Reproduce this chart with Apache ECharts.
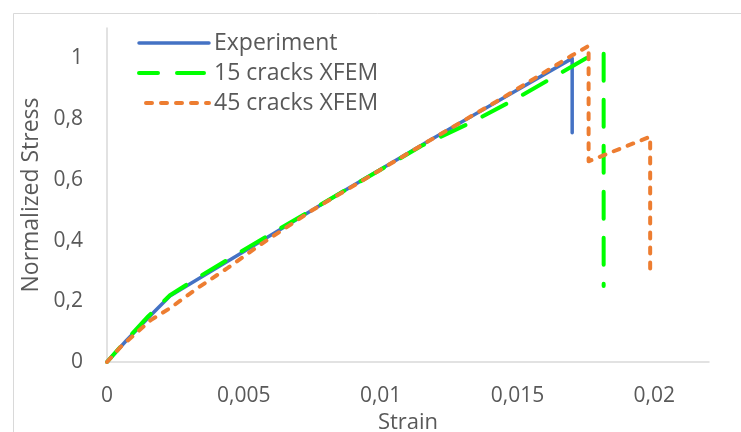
<!DOCTYPE html>
<html>
<head>
<meta charset="utf-8">
<script src="https://cdn.jsdelivr.net/npm/echarts@6/dist/echarts.min.js"></script>
<style>
html,body{margin:0;padding:0;background:#fff;}
#chart{width:741px;height:432px;}
</style>
</head>
<body>
<div id="chart"></div>
<script>
const seriesNames = ['Experiment', '15 cracks XFEM', '45 cracks XFEM'];
const xTicks = [0, 0.005, 0.01, 0.015, 0.02];
const yTicks = [0, 0.2, 0.4, 0.6, 0.8, 1];

const expStrain = [0, 0.0007, 0.0015, 0.0023, 0.0033, 0.0052, 0.0085, 0.0118, 0.0145, 0.017, 0.017];
const expStress = [0, 0.07, 0.145, 0.217, 0.272, 0.375, 0.555, 0.73, 0.87, 1.0, 0.755];

const c15Strain = [0, 0.0007, 0.0015, 0.0023, 0.0033, 0.0052, 0.0085, 0.0115, 0.0134, 0.0149, 0.0164, 0.0178, 0.01815, 0.01815];
const c15Stress = [0, 0.072, 0.15, 0.22, 0.277, 0.38, 0.555, 0.712, 0.793, 0.865, 0.942, 1.016, 1.016, 0.25];

const c45Strain = [0, 0.0005, 0.0016, 0.0023, 0.0033, 0.0044, 0.0056, 0.0075, 0.0085, 0.0118, 0.0145, 0.017, 0.0176, 0.0176, 0.01985, 0.01985];
const c45Stress = [0, 0.05, 0.138, 0.177, 0.243, 0.309, 0.386, 0.5, 0.553, 0.73, 0.872, 1.01, 1.041, 0.661, 0.742, 0.294];

function pairs(xs, ys) { return xs.map((x, i) => [x, ys[i]]); }
function fmt(v) { return String(v).replace('.', ','); }

const FONT = '"Open Sans", sans-serif';
const chart = echarts.init(document.getElementById('chart'), null, {renderer: 'canvas'});
chart.setOption({
  animation: false,
  backgroundColor: '#ffffff',
  graphic: [{
    type: 'rect', silent: true, z: -10,
    shape: {x: 13.5, y: 13.5, width: 800, height: 500},
    style: {fill: 'none', stroke: '#D9D9D9', lineWidth: 1}
  }],
  grid: {left: 107, right: 32, top: 28, bottom: 70, containLabel: false, outerBoundsMode: 'none'},
  legend: {
    orient: 'vertical', left: 137, top: 28, padding: 0, itemGap: 0,
    itemWidth: 70, itemHeight: 14,
    itemStyle: {opacity: 0},
    lineStyle: {width: 'inherit'},
    textStyle: {fontFamily: FONT, fontSize: 23, color: '#595959', lineHeight: 30},
    data: seriesNames
  },
  xAxis: {
    type: 'value', min: 0, max: 0.022, interval: 0.005,
    name: 'Strain', nameLocation: 'middle', nameGap: 44,
    nameTextStyle: {fontFamily: FONT, fontSize: 22, color: '#595959'},
    axisLine: {show: true, lineStyle: {color: '#D9D9D9', width: 1.5}},
    axisTick: {show: false},
    splitLine: {show: false},
    axisLabel: {
      fontFamily: FONT, fontSize: 21, color: '#595959', margin: 24,
      showMaxLabel: false,
      formatter: v => xTicks.some(t => Math.abs(t - v) < 1e-9) ? fmt(+v.toFixed(3)) : ''
    }
  },
  yAxis: {
    type: 'value', min: 0, max: 1.1, interval: 0.2,
    name: 'Normalized Stress', nameLocation: 'middle', nameGap: 58,
    nameTextStyle: {fontFamily: FONT, fontSize: 23, color: '#595959'},
    axisLine: {show: true, lineStyle: {color: '#D9D9D9', width: 1.5}},
    axisTick: {show: false},
    splitLine: {show: false},
    axisLabel: {
      fontFamily: FONT, fontSize: 21, color: '#595959', margin: 24,
      showMaxLabel: false,
      formatter: v => yTicks.some(t => Math.abs(t - v) < 1e-9) ? fmt(+v.toFixed(1)) : ''
    }
  },
  series: [
    {
      name: seriesNames[0], type: 'line', symbol: 'none', z: 3,
      data: pairs(expStrain, expStress),
      lineStyle: {color: '#4472C4', width: 3.5, cap: 'round', join: 'round'},
      itemStyle: {color: '#4472C4'}
    },
    {
      name: seriesNames[1], type: 'line', symbol: 'none', z: 4,
      data: pairs(c15Strain, c15Stress),
      lineStyle: {color: '#00FF00', width: 4, type: [27, 19], dashOffset: 8, cap: 'round', join: 'round'},
      itemStyle: {color: '#00FF00'}
    },
    {
      name: seriesNames[2], type: 'line', symbol: 'none', z: 5,
      data: pairs(c45Strain, c45Stress),
      lineStyle: {color: '#ED7D31', width: 4, type: [6, 9], cap: 'round', join: 'round'},
      itemStyle: {color: '#ED7D31'}
    }
  ]
});
</script>
</body>
</html>
